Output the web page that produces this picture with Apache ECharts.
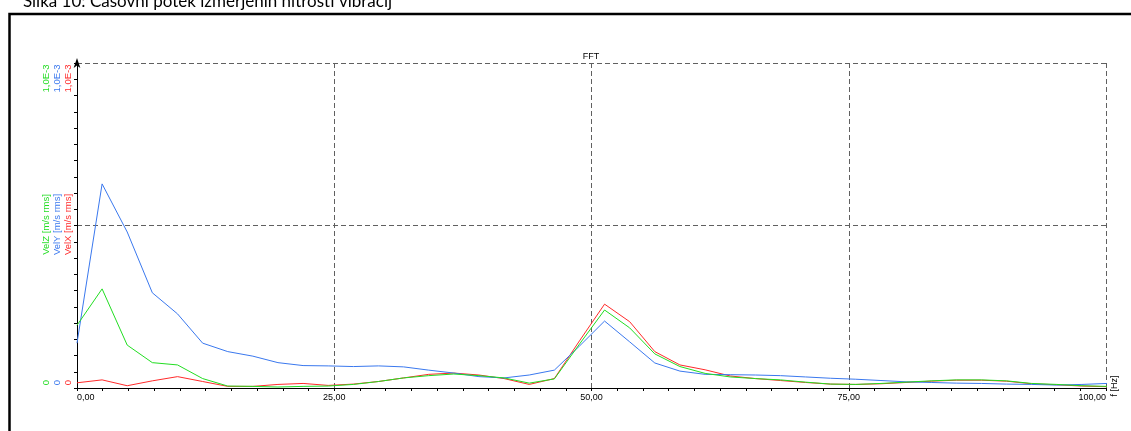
<!DOCTYPE html>
<html>
<head>
<meta charset="utf-8">
<script src="https://cdn.jsdelivr.net/npm/echarts@6/dist/echarts.min.js"></script>
<style>
  html, body { margin: 0; padding: 0; background: #fff; }
  #chart { width: 1131px; height: 431px; }
</style>
</head>
<body>
<div id="chart"></div>
<script>
// frequency bins [Hz]
const freqs = [0, 2.44, 4.88, 7.32, 9.77, 12.21, 14.65, 17.09, 19.53, 21.97,
  24.41, 26.86, 29.30, 31.74, 34.18, 36.62, 39.06, 41.50, 43.95, 46.39,
  48.83, 51.27, 53.71, 56.15, 58.59, 61.04, 63.48, 65.92, 68.36, 70.80,
  73.24, 75.68, 78.13, 80.57, 83.01, 85.45, 87.89, 90.33, 92.77, 95.21,
  97.66, 100.10]

// velocities, in 1E-3 m/s rms
const velX = [0.016, 0.025, 0.007, 0.022, 0.035, 0.020, 0.005, 0.005, 0.011, 0.014,
  0.008, 0.012, 0.020, 0.031, 0.042, 0.046, 0.040, 0.029, 0.011, 0.029,
  0.145, 0.258, 0.204, 0.112, 0.071, 0.056, 0.037, 0.029, 0.023, 0.017,
  0.012, 0.011, 0.013, 0.017, 0.021, 0.024, 0.024, 0.021, 0.013, 0.010,
  0.006, 0.004]
const velY = [0.138, 0.628, 0.480, 0.293, 0.228, 0.138, 0.112, 0.098, 0.078, 0.069,
  0.068, 0.066, 0.068, 0.065, 0.055, 0.046, 0.035, 0.031, 0.040, 0.055,
  0.129, 0.206, 0.142, 0.077, 0.052, 0.042, 0.041, 0.040, 0.038, 0.034,
  0.030, 0.027, 0.023, 0.019, 0.017, 0.015, 0.014, 0.012, 0.011, 0.009,
  0.011, 0.014]
const velZ = [0.193, 0.305, 0.132, 0.078, 0.071, 0.029, 0.006, 0.005, 0.003, 0.005,
  0.006, 0.011, 0.020, 0.031, 0.038, 0.043, 0.038, 0.031, 0.015, 0.028,
  0.135, 0.240, 0.185, 0.105, 0.066, 0.045, 0.034, 0.029, 0.025, 0.018,
  0.012, 0.011, 0.014, 0.018, 0.022, 0.025, 0.025, 0.022, 0.014, 0.011,
  0.007, 0.005]

const channels = ['VelZ', 'VelY', 'VelX']
const channelColors = ['#22dd22', '#3a78ee', '#ff2a2a']
const unitText = '[m/s rms]'
const topLabel = '1,0E-3'
const bottomLabel = '0'
const caption = 'Slika 10: Časovni potek izmerjenih hitrosti vibracij'

const chartFont = 'Liberation Sans'
const gridLine = { color: '#606060', type: [5, 3], width: 1 }

const chart = echarts.init(document.getElementById('chart'))

const toSeries = (name, data, color) => {
  return {
    name: name,
    type: 'line',
    data: data.map((v, i) => [freqs[i], v]),
    symbol: 'none',
    lineStyle: { color: color, width: 1 },
    itemStyle: { color: color },
    silent: true
  }
}

// rotated channel labels left of the y axis
const sideLabels = []
channels.forEach((name, i) => {
  const x = 46.5 + i * 11
  const common = { fill: channelColors[i], font: '9.5px "' + chartFont + '"', align: 'center', verticalAlign: 'middle' }
  sideLabels.push({ type: 'text', x: x, y: 78.5, rotation: Math.PI / 2, style: Object.assign({ text: topLabel }, common) })
  sideLabels.push({ type: 'text', x: x, y: 224.5, rotation: Math.PI / 2, style: Object.assign({ text: name + ' ' + unitText }, common) })
  sideLabels.push({ type: 'text', x: x, y: 382.5, rotation: Math.PI / 2, style: Object.assign({ text: bottomLabel }, common) })
})

const option = {
  animation: false,
  backgroundColor: '#fff',
  grid: { left: 77, right: 25, top: 63, bottom: 43 },
  xAxis: {
    type: 'value',
    min: 0,
    max: 100,
    interval: 25,
    axisLine: { lineStyle: { color: '#000', width: 1 } },
    axisTick: { show: true, length: 3, lineStyle: { color: '#000' } },
    minorTick: { show: true, splitNumber: 10, length: 3, lineStyle: { color: '#000' } },
    splitLine: { show: true, lineStyle: gridLine },
    axisLabel: {
      fontSize: 9,
      fontFamily: chartFont,
      color: '#000',
      margin: 5,
      alignMinLabel: 'left',
      alignMaxLabel: 'right',
      formatter: v => v.toFixed(2).replace('.', ',')
    }
  },
  yAxis: {
    type: 'value',
    min: 0,
    max: 1,
    interval: 0.5,
    axisLine: {
      show: true,
      symbol: ['none', 'arrow'],
      symbolSize: [5, 10],
      symbolOffset: [0, 5],
      lineStyle: { color: '#000', width: 1 }
    },
    axisTick: { show: true, length: 3, lineStyle: { color: '#000' } },
    minorTick: { show: true, splitNumber: 10, length: 3, lineStyle: { color: '#000' } },
    splitLine: { show: true, lineStyle: gridLine },
    axisLabel: { show: false }
  },
  series: [
    toSeries('VelX', velX, channelColors[2]),
    toSeries('VelY', velY, channelColors[1]),
    toSeries('VelZ', velZ, channelColors[0])
  ],
  graphic: [
    {
      type: 'rect',
      shape: { x: 9.5, y: 14, width: 1200, height: 500 },
      style: { fill: 'none', stroke: '#000', lineWidth: 2.5 },
      silent: true
    },
    {
      type: 'text',
      x: 23,
      y: 2,
      style: { text: caption, fill: '#000', font: '17px Lato', verticalAlign: 'middle' }
    },
    {
      type: 'text',
      x: 591,
      y: 57,
      style: { text: 'FFT', fill: '#000', font: '9px "' + chartFont + '"', align: 'center', verticalAlign: 'middle' }
    },
    {
      type: 'text',
      x: 1114.5,
      y: 386,
      rotation: Math.PI / 2,
      style: { text: 'f [Hz]', fill: '#000', font: '9px "' + chartFont + '"', align: 'center', verticalAlign: 'middle' }
    }
  ].concat(sideLabels)
}

chart.setOption(option)

window.onresize = () => {
  if (chart) {
    chart.resize()
  }
}
</script>
</body>
</html>
